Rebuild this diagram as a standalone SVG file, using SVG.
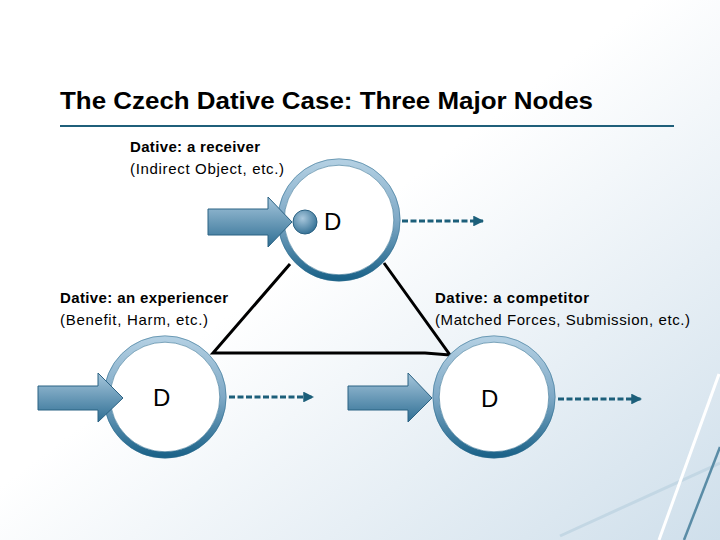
<svg xmlns="http://www.w3.org/2000/svg" width="720" height="540" viewBox="0 0 720 540">
<defs>
<linearGradient id="bg" x1="0" y1="0" x2="1" y2="1">
<stop offset="0" stop-color="#ffffff"/>
<stop offset="0.45" stop-color="#ffffff"/>
<stop offset="1" stop-color="#cfdfeb"/>
</linearGradient>
<linearGradient id="ring" x1="0" y1="0" x2="0" y2="1">
<stop offset="0" stop-color="#b2cfe2"/>
<stop offset="0.5" stop-color="#7fa9c6"/>
<stop offset="1" stop-color="#1c6389"/>
</linearGradient>
<linearGradient id="arrowFill" x1="0" y1="0" x2="0" y2="1">
<stop offset="0" stop-color="#a6c6dc"/>
<stop offset="1" stop-color="#2e6e93"/>
</linearGradient>
<radialGradient id="ball" cx="0.4" cy="0.35" r="0.7">
<stop offset="0" stop-color="#a9c8dd"/>
<stop offset="1" stop-color="#2f6d92"/>
</radialGradient>
<marker id="dashHead" viewBox="0 0 10 10" refX="9" refY="5" markerWidth="3.6" markerHeight="3.6" orient="auto" markerUnits="strokeWidth">
<path d="M0,0 L10,5 L0,10 z" fill="#1c5f7a"/>
</marker>
</defs>
<style>
.lbl{font-family:"Liberation Sans",Arial,sans-serif;font-size:15px;fill:#000}
.b{font-weight:bold}
.d{font-family:"Liberation Sans",Arial,sans-serif;font-size:24px;fill:#000}
.ringc{fill:#ffffff;stroke:url(#ring);stroke-width:6.5}
.edge{fill:none;stroke:#2d6b8d;stroke-width:0.8;opacity:0.7}
.bigarrow{fill:url(#arrowFill);stroke:#2b6283;stroke-width:1}
.dash{fill:none;stroke:#1c5f7a;stroke-width:3;stroke-dasharray:6 2.5;marker-end:url(#dashHead)}
.tri{fill:none;stroke:#000;stroke-width:3;stroke-linejoin:miter}
</style>
<rect x="0" y="0" width="720" height="540" fill="url(#bg)"/>
<g id="decor">
<line x1="560" y1="536" x2="720" y2="463" stroke="#c3d7e4" stroke-width="3"/>
<line x1="719" y1="374" x2="659" y2="540" stroke="#ffffff" stroke-width="3"/>
<line x1="720" y1="447" x2="684" y2="540" stroke="#5a8ca6" stroke-width="2.5"/>
</g>
<g id="title">
<text x="60" y="109" font-family="Liberation Sans, Arial, sans-serif" font-size="24" font-weight="bold" fill="#000" textLength="533" lengthAdjust="spacingAndGlyphs">The Czech Dative Case: Three Major Nodes</text>
<line x1="60" y1="126" x2="674" y2="126" stroke="#1f5f7a" stroke-width="2"/>
</g>
<g id="connectors">
<polyline class="tri" points="290,264 213,353 425,353 450,355 384,263"/>
<line class="dash" x1="402" y1="221" x2="483" y2="221"/>
<line class="dash" x1="229" y1="397" x2="313" y2="397"/>
<line class="dash" x1="558" y1="399" x2="641" y2="399"/>
</g>
<g id="node-receiver">
<text class="lbl b" x="130" y="152" textLength="130" lengthAdjust="spacing">Dative: a receiver</text>
<text class="lbl" x="130" y="174" textLength="154" lengthAdjust="spacing">(Indirect Object, etc.)</text>
<circle class="ringc" cx="339" cy="220" r="58"/>
<circle class="edge" cx="339" cy="220" r="61.2"/>
<circle class="edge" cx="339" cy="220" r="54.8"/>
<path class="bigarrow" d="M208,209 L268,209 L268,197 L292,222 L268,247 L268,235 L208,235 z"/>
<circle cx="305" cy="222" r="12" fill="url(#ball)" stroke="#2b6283" stroke-width="1"/>
<text class="d" x="324" y="230">D</text>
</g>
<g id="node-experiencer">
<text class="lbl b" x="60" y="303" textLength="168" lengthAdjust="spacing">Dative: an experiencer</text>
<text class="lbl" x="60" y="325" textLength="148" lengthAdjust="spacing">(Benefit, Harm, etc.)</text>
<circle class="ringc" cx="165" cy="397" r="58"/>
<circle class="edge" cx="165" cy="397" r="61.2"/>
<circle class="edge" cx="165" cy="397" r="54.8"/>
<path class="bigarrow" d="M38,386 L98,386 L98,373 L123,398 L98,422 L98,410 L38,410 z"/>
<text class="d" x="153" y="406">D</text>
</g>
<g id="node-competitor">
<text class="lbl b" x="435" y="303" textLength="154" lengthAdjust="spacing">Dative: a competitor</text>
<text class="lbl" x="435" y="325" textLength="255" lengthAdjust="spacing">(Matched Forces, Submission, etc.)</text>
<circle class="ringc" cx="494" cy="397" r="58"/>
<circle class="edge" cx="494" cy="397" r="61.2"/>
<circle class="edge" cx="494" cy="397" r="54.8"/>
<path class="bigarrow" d="M348,386 L408,386 L408,373 L432,398 L408,422 L408,410 L348,410 z"/>
<text class="d" x="481" y="407">D</text>
</g>
</svg>
